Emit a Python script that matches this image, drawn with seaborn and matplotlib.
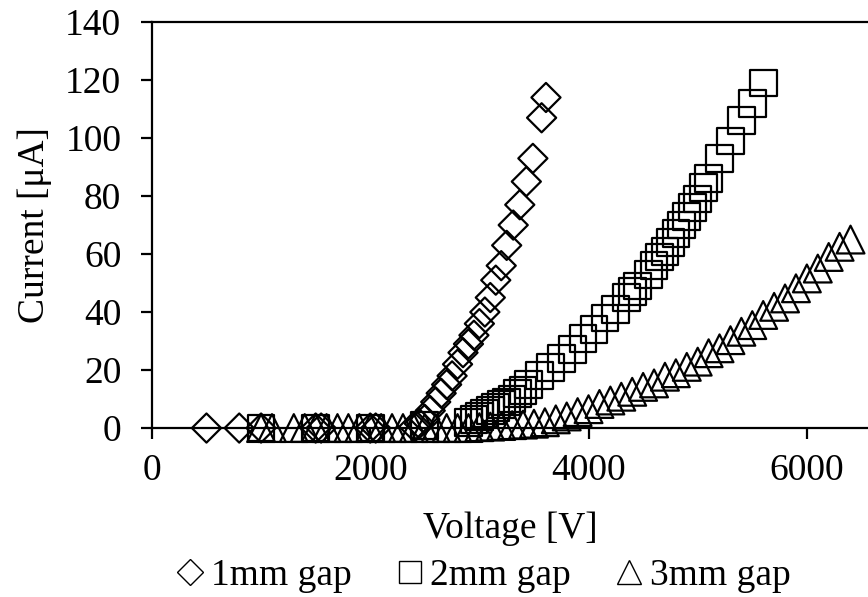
import numpy as np
import pandas as pd
import matplotlib
matplotlib.use("Agg")
import matplotlib.pyplot as plt
import seaborn as sns
from matplotlib.lines import Line2D

# 1mm gap (diamonds)
v_1mm = [500, 800, 1000, 1500, 1550, 2000, 2050, 2400, 2450, 2500, 2550, 2600, 2650, 2700,
         2750, 2800, 2850, 2900, 2950, 3000, 3050, 3100, 3150, 3200, 3250, 3310, 3370,
         3430, 3490, 3570, 3610]
i_1mm = [0, 0, 0, 0, 0, 0, 0, 0.5, 1.5, 3, 6, 9, 12, 15,
         18, 22, 26, 29, 32, 36, 40, 45, 51, 56, 63, 70, 77,
         85, 93, 107, 114]

# 2mm gap (squares)
v_2mm = [1000, 1500, 2000, 2500, 2900, 2950, 3000, 3050, 3100, 3150, 3200, 3250, 3300, 3350,
         3400, 3450, 3550, 3650, 3750, 3850, 3950, 4050, 4150, 4250, 4350, 4400, 4450, 4550,
         4600, 4650, 4700, 4750, 4800, 4850, 4900, 4950, 5000, 5050, 5100, 5200, 5300, 5400,
         5500, 5600]
i_2mm = [0, 0, 0, 1, 2, 3, 4, 5, 6, 7, 8, 9, 10, 12,
         13, 15, 18, 21, 24, 27, 31, 34, 38, 41, 45, 47, 49, 53,
         56, 59, 61, 64, 67, 70, 73, 76, 79, 83, 86, 93, 99, 106,
         112, 119]

# 3mm gap (triangles)
v_3mm = [1000, 1100, 1300, 1400, 1500, 1600, 1700, 1800, 1900, 2000, 2100, 2200, 2300, 2400,
         2500, 2600, 2700, 2800, 2900, 3000, 3100, 3200, 3300, 3400, 3500, 3600, 3700, 3800,
         3900, 4000, 4100, 4200, 4300, 4400, 4500, 4600, 4700, 4800, 4900, 5000, 5100, 5200,
         5300, 5400, 5500, 5600, 5700, 5800, 5900, 6000, 6100, 6200, 6300, 6400]
i_3mm = [0, 0, 0, 0, 0, 0, 0, 0, 0, 0, 0, 0, 0, 0,
         0, 0, 0, 0, 0, 0.3, 0.5, 0.7, 1, 1.2, 1.5, 2, 3, 4,
         5.5, 6.5, 8.3, 9.5, 10.8, 12.5, 14.2, 15.4, 17.7, 18.9, 21.1, 22.9, 25.8, 27.5,
         30.3, 33.2, 35.5, 39, 41.8, 44.7, 48.2, 51.6, 55, 59, 62.5, 65]

labels = ["1mm gap", "2mm gap", "3mm gap"]
x_ticks = [0, 2000, 4000, 6000]
y_ticks = [0, 20, 40, 60, 80, 100, 120, 140]

sns.set_style("ticks")
plt.rcParams["font.family"] = ["Liberation Serif", "DejaVu Serif"]
plt.rcParams["text.color"] = "black"
plt.rcParams["axes.labelcolor"] = "black"
plt.rcParams["xtick.color"] = "black"
plt.rcParams["ytick.color"] = "black"

fig = plt.figure(figsize=(8.68, 5.97), dpi=100)
ax = fig.add_axes([0.175, 0.283, 0.825, 0.680])

series = [(v_1mm, i_1mm, "D", 220), (v_2mm, i_2mm, "s", 370), (v_3mm, i_3mm, "^", 400)]
for (v, i, m, s), lab in zip(series, labels):
    df = pd.DataFrame({"Voltage": v, "Current": i})
    sns.scatterplot(data=df, x="Voltage", y="Current", marker=m, s=s, ax=ax,
                    facecolor="none", edgecolor="black", linewidth=1.6,
                    clip_on=False, zorder=3, legend=False)

ax.set_xlim(0, 6560)
ax.set_ylim(0, 140)
ax.set_xticks(x_ticks)
ax.set_yticks(y_ticks)
ax.tick_params(axis="both", labelsize=27, width=1.6, length=8, direction="out",
               colors="black", labelcolor="black")
ax.tick_params(axis="y", pad=14)
ax.tick_params(axis="x", pad=10)
for side in ["left", "top", "bottom"]:
    ax.spines[side].set_linewidth(1.6)
    ax.spines[side].set_color("black")
    ax.spines[side].set_visible(True)
ax.spines["right"].set_visible(False)

ax.set_xlabel("Voltage [V]", fontsize=27, color="black")
ax.set_ylabel("Current [μA]", fontsize=27, color="black")
ax.xaxis.set_label_coords(0.5, -0.205)
ax.yaxis.set_label_coords(-0.14, 0.5)

handles = [Line2D([], [], linestyle="none", marker=m, markersize=ms, markerfacecolor="none",
                  markeredgecolor="black", markeredgewidth=1.0)
           for m, ms in zip(["D", "s", "^"], [13, 16, 17])]
fig.legend(handles, labels, loc="center", bbox_to_anchor=(0.554, 0.036), ncol=3,
           frameon=False, fontsize=27, handletextpad=0.05, columnspacing=1.05,
           handlelength=1.0, borderpad=0)

fig.savefig("out.png", dpi=100)
